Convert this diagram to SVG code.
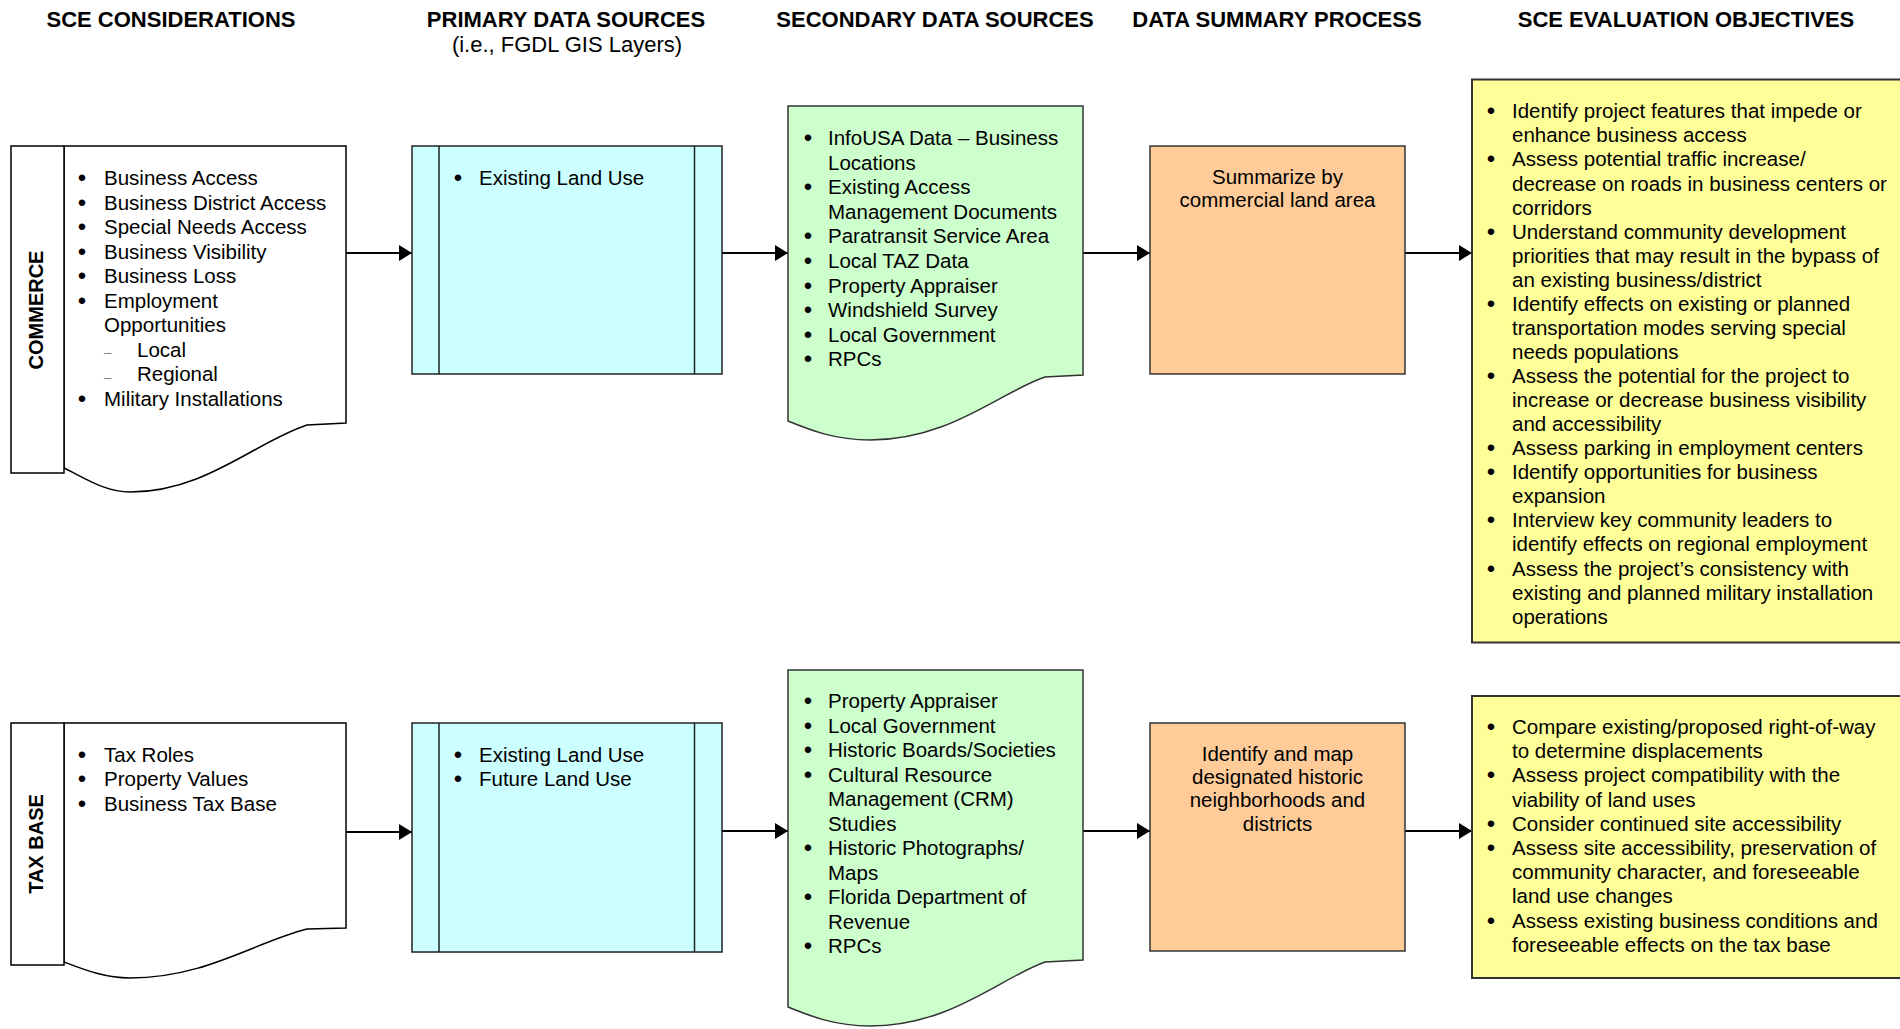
<svg xmlns="http://www.w3.org/2000/svg" width="1900" height="1029" viewBox="0 0 1900 1029">
<style>
text{font-family:"Liberation Sans",Arial,sans-serif;fill:#000}
.hd{font-size:22px;font-weight:bold;text-anchor:middle}
.sub{font-size:22px;text-anchor:middle}
.t{font-size:20.5px}
.c{font-size:20.5px;text-anchor:middle}
.bu{font-size:24px;text-anchor:middle}
.lab{font-size:20px;font-weight:bold;text-anchor:middle}
.doc{fill:#fff;stroke:#000;stroke-width:1.5}
.cy{fill:#CCFFFF;stroke:#222;stroke-width:1.5}
.gr{fill:#CCFFCC;stroke:#333;stroke-width:1.5}
.or{fill:#FFCC99;stroke:#333;stroke-width:1.5}
.ye{fill:#FFFF99;stroke:#333;stroke-width:2}
.cn{stroke:#000;stroke-width:2;fill:none;marker-end:url(#ah)}
</style>
<defs>
<marker id="ah" markerUnits="userSpaceOnUse" markerWidth="14" markerHeight="16" refX="13" refY="8" orient="auto">
<path d="M0,0 L13,8 L0,16 z" fill="#000"/>
</marker>
</defs>
<rect width="1900" height="1029" fill="#fff"/>

<g id="headers">
<text class="hd" x="171" y="27">SCE CONSIDERATIONS</text>
<text class="hd" x="566" y="27">PRIMARY DATA SOURCES</text>
<text class="sub" x="567" y="52">(i.e., FGDL GIS Layers)</text>
<text class="hd" x="935" y="27">SECONDARY DATA SOURCES</text>
<text class="hd" x="1277" y="27">DATA SUMMARY PROCESS</text>
<text class="hd" x="1686" y="27">SCE EVALUATION OBJECTIVES</text>
</g>

<g id="connectors">
<line class="cn" x1="346" y1="253" x2="412" y2="253"/>
<line class="cn" x1="722" y1="253" x2="788" y2="253"/>
<line class="cn" x1="1083" y1="253" x2="1150" y2="253"/>
<line class="cn" x1="1405" y1="253" x2="1472" y2="253"/>
<line class="cn" x1="346" y1="832" x2="412" y2="832"/>
<line class="cn" x1="722" y1="831" x2="788" y2="831"/>
<line class="cn" x1="1083" y1="831" x2="1150" y2="831"/>
<line class="cn" x1="1405" y1="831" x2="1472" y2="831"/>
</g>

<g id="commerce-considerations">
<path class="doc" d="M64,146 L346,146 L346,423 L307,425 C255,442 205,492 130,492 C105,492 85,478 64,468 Z"/>
<rect class="doc" x="11" y="146" width="53" height="327"/>
<text class="lab" transform="translate(43,310) rotate(-90)">COMMERCE</text>
<text class="bu"><tspan x="82" y="186">•</tspan><tspan x="82" y="210.6">•</tspan><tspan x="82" y="235.1">•</tspan><tspan x="82" y="259.7">•</tspan><tspan x="82" y="284.2">•</tspan><tspan x="82" y="308.8">•</tspan><tspan x="82" y="407">•</tspan></text>
<text class="t"><tspan x="104" y="185">Business Access</tspan><tspan x="104" y="209.6">Business District Access</tspan><tspan x="104" y="234.1">Special Needs Access</tspan><tspan x="104" y="258.7">Business Visibility</tspan><tspan x="104" y="283.2">Business Loss</tspan><tspan x="104" y="307.8">Employment</tspan><tspan x="104" y="332.3">Opportunities</tspan><tspan x="137" y="356.9">Local</tspan><tspan x="137" y="381.4">Regional</tspan><tspan x="104" y="406">Military Installations</tspan></text>
<text class="t" style="font-size:13px;fill:#777"><tspan x="104" y="357">–</tspan><tspan x="104" y="381.5">–</tspan></text>
</g>

<g id="commerce-primary">
<rect class="cy" x="412" y="146" width="310" height="228"/>
<line x1="439" y1="146" x2="439" y2="374" stroke="#222" stroke-width="1.5"/>
<line x1="694.5" y1="146" x2="694.5" y2="374" stroke="#222" stroke-width="1.5"/>
<text class="bu" x="458" y="186">•</text>
<text class="t" x="479" y="185">Existing Land Use</text>
</g>

<g id="commerce-secondary">
<path class="gr" d="M788,106 L1083,106 L1083,375 L1045,377 C1000,392 950,440 870,440 C835,440 810,430 788,421 Z"/>
<text class="bu"><tspan x="808" y="146">•</tspan><tspan x="808" y="195.2">•</tspan><tspan x="808" y="244.4">•</tspan><tspan x="808" y="269">•</tspan><tspan x="808" y="293.6">•</tspan><tspan x="808" y="318.2">•</tspan><tspan x="808" y="342.8">•</tspan><tspan x="808" y="367.4">•</tspan></text>
<text class="t"><tspan x="828" y="145">InfoUSA Data – Business</tspan><tspan x="828" y="169.6">Locations</tspan><tspan x="828" y="194.2">Existing Access</tspan><tspan x="828" y="218.8">Management Documents</tspan><tspan x="828" y="243.4">Paratransit Service Area</tspan><tspan x="828" y="268">Local TAZ Data</tspan><tspan x="828" y="292.6">Property Appraiser</tspan><tspan x="828" y="317.2">Windshield Survey</tspan><tspan x="828" y="341.8">Local Government</tspan><tspan x="828" y="366.4">RPCs</tspan></text>
</g>

<g id="commerce-summary">
<rect class="or" x="1150" y="146" width="255" height="228"/>
<text class="c"><tspan x="1277.5" y="184">Summarize by</tspan><tspan x="1277.5" y="207">commercial land area</tspan></text>
</g>

<g id="commerce-objectives">
<rect class="ye" x="1472" y="79.5" width="440" height="563"/>
<text class="bu"><tspan x="1491" y="119.3">•</tspan><tspan x="1491" y="167.4">•</tspan><tspan x="1491" y="239.6">•</tspan><tspan x="1491" y="311.8">•</tspan><tspan x="1491" y="384">•</tspan><tspan x="1491" y="456.2">•</tspan><tspan x="1491" y="480.2">•</tspan><tspan x="1491" y="528.4">•</tspan><tspan x="1491" y="576.5">•</tspan></text>
<text class="t"><tspan x="1512" y="118.3">Identify project features that impede or</tspan><tspan x="1512" y="142.4">enhance business access</tspan><tspan x="1512" y="166.4">Assess potential traffic increase/</tspan><tspan x="1512" y="190.5">decrease on roads in business centers or</tspan><tspan x="1512" y="214.5">corridors</tspan><tspan x="1512" y="238.6">Understand community development</tspan><tspan x="1512" y="262.7">priorities that may result in the bypass of</tspan><tspan x="1512" y="286.7">an existing business/district</tspan><tspan x="1512" y="310.8">Identify effects on existing or planned</tspan><tspan x="1512" y="334.8">transportation modes serving special</tspan><tspan x="1512" y="358.9">needs populations</tspan><tspan x="1512" y="383">Assess the potential for the project to</tspan><tspan x="1512" y="407">increase or decrease business visibility</tspan><tspan x="1512" y="431.1">and accessibility</tspan><tspan x="1512" y="455.2">Assess parking in employment centers</tspan><tspan x="1512" y="479.2">Identify opportunities for business</tspan><tspan x="1512" y="503.3">expansion</tspan><tspan x="1512" y="527.4">Interview key community leaders to</tspan><tspan x="1512" y="551.4">identify effects on regional employment</tspan><tspan x="1512" y="575.5">Assess the project’s consistency with</tspan><tspan x="1512" y="599.5">existing and planned military installation</tspan><tspan x="1512" y="623.6">operations</tspan></text>
</g>

<g id="taxbase-considerations">
<path class="doc" d="M64,723 L346,723 L346,928 L307,929 C255,942 205,978 130,978 C105,978 85,970 64,962 Z"/>
<rect class="doc" x="11" y="723" width="53" height="242"/>
<text class="lab" transform="translate(43,844) rotate(-90)">TAX BASE</text>
<text class="bu"><tspan x="82" y="762.7">•</tspan><tspan x="82" y="787.3">•</tspan><tspan x="82" y="811.8">•</tspan></text>
<text class="t"><tspan x="104" y="761.7">Tax Roles</tspan><tspan x="104" y="786.3">Property Values</tspan><tspan x="104" y="810.8">Business Tax Base</tspan></text>
</g>

<g id="taxbase-primary">
<rect class="cy" x="412" y="723" width="310" height="229"/>
<line x1="439" y1="723" x2="439" y2="952" stroke="#222" stroke-width="1.5"/>
<line x1="694.5" y1="723" x2="694.5" y2="952" stroke="#222" stroke-width="1.5"/>
<text class="bu"><tspan x="458" y="762.7">•</tspan><tspan x="458" y="787.3">•</tspan></text>
<text class="t"><tspan x="479" y="761.7">Existing Land Use</tspan><tspan x="479" y="786.3">Future Land Use</tspan></text>
</g>

<g id="taxbase-secondary">
<path class="gr" d="M788,670 L1083,670 L1083,960 L1045,962 C1000,978 950,1026 870,1026 C835,1026 810,1016 788,1007 Z"/>
<text class="bu"><tspan x="808" y="709">•</tspan><tspan x="808" y="733.5">•</tspan><tspan x="808" y="758">•</tspan><tspan x="808" y="782.5">•</tspan><tspan x="808" y="856">•</tspan><tspan x="808" y="905">•</tspan><tspan x="808" y="954">•</tspan></text>
<text class="t"><tspan x="828" y="708">Property Appraiser</tspan><tspan x="828" y="732.5">Local Government</tspan><tspan x="828" y="757">Historic Boards/Societies</tspan><tspan x="828" y="781.5">Cultural Resource</tspan><tspan x="828" y="806">Management (CRM)</tspan><tspan x="828" y="830.5">Studies</tspan><tspan x="828" y="855">Historic Photographs/</tspan><tspan x="828" y="879.5">Maps</tspan><tspan x="828" y="904">Florida Department of</tspan><tspan x="828" y="928.5">Revenue</tspan><tspan x="828" y="953">RPCs</tspan></text>
</g>

<g id="taxbase-summary">
<rect class="or" x="1150" y="723" width="255" height="228"/>
<text class="c"><tspan x="1277.5" y="760.7">Identify and map</tspan><tspan x="1277.5" y="784">designated historic</tspan><tspan x="1277.5" y="807.3">neighborhoods and</tspan><tspan x="1277.5" y="830.6">districts</tspan></text>
</g>

<g id="taxbase-objectives">
<rect class="ye" x="1472" y="696" width="440" height="282"/>
<text class="bu"><tspan x="1491" y="735">•</tspan><tspan x="1491" y="783.4">•</tspan><tspan x="1491" y="831.8">•</tspan><tspan x="1491" y="856">•</tspan><tspan x="1491" y="928.6">•</tspan></text>
<text class="t"><tspan x="1512" y="734">Compare existing/proposed right-of-way</tspan><tspan x="1512" y="758.2">to determine displacements</tspan><tspan x="1512" y="782.4">Assess project compatibility with the</tspan><tspan x="1512" y="806.6">viability of land uses</tspan><tspan x="1512" y="830.8">Consider continued site accessibility</tspan><tspan x="1512" y="855">Assess site accessibility, preservation of</tspan><tspan x="1512" y="879.2">community character, and foreseeable</tspan><tspan x="1512" y="903.4">land use changes</tspan><tspan x="1512" y="927.6">Assess existing business conditions and</tspan><tspan x="1512" y="951.8">foreseeable effects on the tax base</tspan></text>
</g>
</svg>
